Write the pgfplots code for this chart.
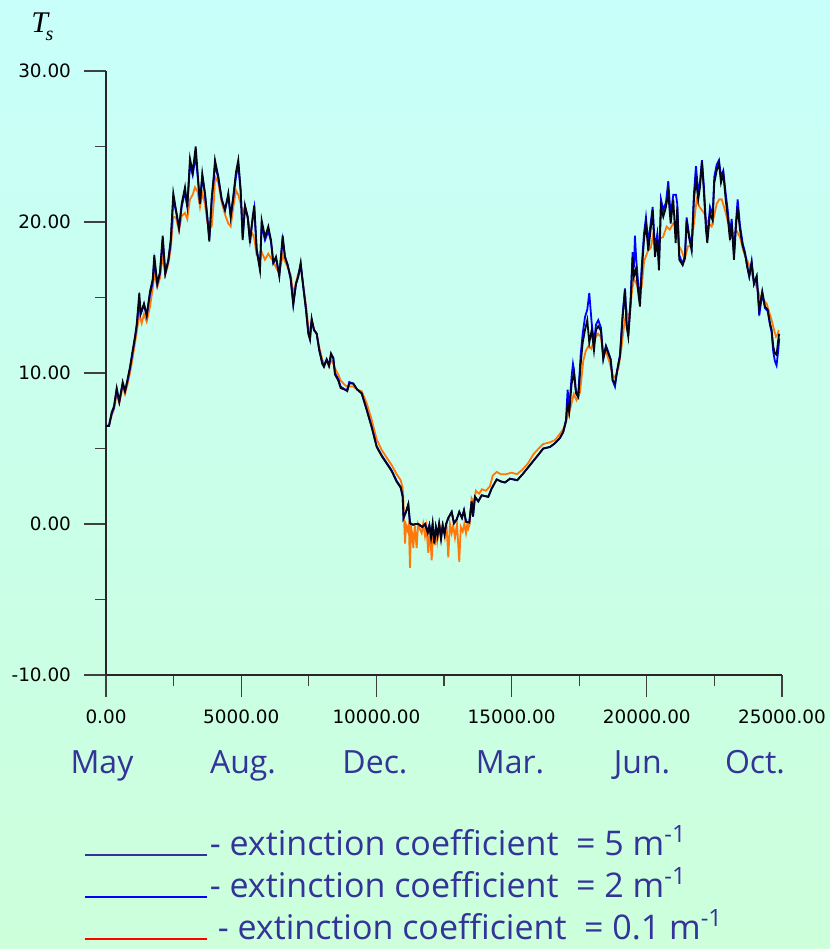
\documentclass[border=0pt]{standalone}
\usepackage{fontspec}
\usepackage{pgfplots}
\pgfplotsset{compat=1.18}
\setmainfont{DejaVu Sans}
\newfontfamily\legfont{Open Sans}
\newfontfamily\timesf{Liberation Serif}
\definecolor{bgtop}{RGB}{200,255,250}
\definecolor{bgbot}{RGB}{204,255,218}
\definecolor{navytext}{RGB}{51,51,153}
\definecolor{orng}{RGB}{255,120,10}
\definecolor{blu}{RGB}{0,0,255}
\definecolor{blk}{RGB}{5,5,20}
\begin{document}
\begin{tikzpicture}
\shade[top color=bgtop,bottom color=bgbot] (0pt,0pt) rectangle (415pt,474.5pt);
\node[anchor=base west, inner sep=0pt] at (15.5pt,458pt) {\timesf\itshape\fontsize{15}{15}\selectfont T\kern-1.2pt\raisebox{-4pt}{\fontsize{10}{10}\selectfont s}};
\begin{axis}[at={(53pt,137pt)}, anchor=south west,
  width=338pt, height=302pt, scale only axis,
  xmin=0, xmax=25000, ymin=-10, ymax=30,
  axis lines*=left, axis line style={-, black!85, line width=0.6pt},
  xtick={0,5000,10000,15000,20000,25000}, ytick={-10,0,10,20,30},
  minor x tick num=1, minor y tick num=1,
  tick align=outside, major tick length=11pt, minor tick length=5.5pt,
  tick style={black!75, line width=0.6pt},
  scaled x ticks=false, scaled y ticks=false,
  ticklabel style={font=\fontsize{9.2}{10}\selectfont, /pgf/number format/fixed, /pgf/number format/fixed zerofill, /pgf/number format/precision=2, /pgf/number format/1000 sep={}, /pgf/number format/assume math mode=true},
  yticklabel style={xshift=-3pt},
  xticklabel style={yshift=-3pt},
  clip=false,
  legend style={at={(-0.034,-0.255)}, anchor=north west, draw=none, fill=none, inner sep=0pt,
    font=\legfont\fontsize{17}{20}\selectfont, text=navytext, row sep=5.5pt, column sep=1pt,
    nodes={inner sep=0pt, text height=13pt, text depth=2.5pt}},
  legend cell align=left,
  legend image code/.code={\draw[#1] (0pt,-5pt) -- (61pt,-5pt);},
]
\addlegendimage{color=navytext, line width=1.2pt}
\addlegendentry{- extinction coefficient\ \ = 5 m\textsuperscript{-1}}
\addlegendimage{color=blu, line width=1.2pt}
\addlegendentry{- extinction coefficient\ \ = 2 m\textsuperscript{-1}}
\addlegendimage{color=red, line width=1.2pt}
\addlegendentry{\hspace*{4pt}- extinction coefficient\ \ = 0.1 m\textsuperscript{-1}}
% extinction coefficient 0.1
\addplot[forget plot, color=orng, line width=0.9pt] coordinates {
(0,6.5)(111,6.5)(211,7.2)(296,7.6)(396,8.6)(492,8.0)(618,9.1)(703,8.6)(788,9.2)(888,10.0)(987,11.0)(1072,12.0)(1135,12.7)(1231,13.9)(1320,13.3)(1405,13.9)(1505,13.4)(1627,14.4)(1727,15.6)(1786,16.6)(1897,15.7)(1997,16.3)(2097,17.8)(2193,16.5)(2304,17.2)(2393,18.2)(2489,20.35)(2589,20.3)(2700,19.4)(2799,20.4)(2921,20.6)(3006,20.2)(3106,21.5)(3206,21.8)(3290,22.3)(3391,22.0)(3476,21.0)(3561,21.9)(3661,21.2)(3746,20.0)(3820,19.5)(3909,19.7)(3994,21.5)(4031,23.0)(4153,22.6)(4279,21.3)(4401,20.5)(4523,19.9)(4611,19.7)(4708,21.0)(4807,22.1)(4892,21.8)(4981,21.2)(5055,20.6)(5140,21.0)(5240,20.3)(5325,19.5)(5425,19.2)(5484,18.9)(5573,17.8)(5695,17.7)(5758,18.0)(5880,17.5)(6002,17.9)(6102,17.6)(6187,17.4)(6287,17.0)(6409,16.6)(6534,17.8)(6619,17.4)(6719,17.0)(6830,16.5)(6926,15.2)(7026,16.0)(7111,16.6)(7200,17.0)(7296,15.8)(7396,14.5)(7481,13.1)(7544,12.7)(7607,13.4)(7692,12.9)(7792,12.6)(7888,11.7)(7999,10.9)(8061,10.6)(8161,10.8)(8247,10.4)(8321,10.9)(8406,10.6)(8468,10.3)(8590,9.9)(8679,9.5)(8838,9.2)(8923,9.1)(8997,9.1)(9145,9.1)(9293,8.9)(9456,8.8)(9641,8.0)(9826,6.9)(10011,5.6)(10196,4.9)(10381,4.4)(10565,3.9)(10750,3.3)(10898,2.9)(10972,2.4)(11000,1.5)(11030,0.0)(11057,-1.3)(11100,-0.1)(11150,-0.4)(11200,0.0)(11242,-2.9)(11280,-0.2)(11320,-0.6)(11365,-1.6)(11420,-0.1)(11489,-1.6)(11540,0.0)(11600,-0.3)(11674,-0.6)(11730,0.0)(11797,-0.8)(11850,-0.2)(11919,-1.9)(11980,-0.3)(12044,-2.4)(12100,-0.4)(12166,-1.4)(12210,-0.2)(12252,-1.1)(12330,0.0)(12414,-0.5)(12470,-0.1)(12536,-0.9)(12600,-0.3)(12658,-2.2)(12720,0.0)(12784,-0.6)(12840,-0.1)(12906,-0.9)(12980,0.0)(13065,-2.5)(13120,-0.2)(13191,-0.5)(13250,0.0)(13313,-0.6)(13360,0.0)(13398,-0.3)(13450,0.0)(13520,1.7)(13600,1.4)(13680,2.2)(13800,2.0)(13900,2.3)(14050,2.2)(14200,2.5)(14300,3.2)(14450,3.45)(14600,3.3)(14800,3.3)(15000,3.4)(15200,3.3)(15400,3.6)(15600,4.0)(15800,4.6)(16000,5.0)(16172,5.3)(16400,5.4)(16600,5.55)(16800,6.0)(16950,6.4)(17050,7.0)(17150,7.5)(17300,8.6)(17400,8.2)(17529,8.7)(17650,10.8)(17750,11.5)(17850,11.8)(17950,11.6)(18050,12.2)(18194,12.6)(18300,12.4)(18400,11.2)(18500,11.4)(18638,10.6)(18750,9.8)(18823,9.7)(18950,10.3)(19050,11.5)(19150,13.0)(19255,14.2)(19350,13.5)(19450,15.4)(19520,16.2)(19600,16.0)(19700,15.4)(19810,15.7)(19900,17.4)(20043,18.1)(20150,18.3)(20250,19.3)(20350,18.2)(20487,18.9)(20600,19.0)(20735,19.7)(20850,19.5)(20979,19.9)(21100,19.6)(21190,18.4)(21289,18.1)(21400,17.5)(21522,18.4)(21640,18.4)(21744,19.9)(21844,21.5)(21950,21.0)(22029,20.8)(22120,20.6)(22214,20.1)(22300,19.9)(22399,19.7)(22500,20.5)(22585,21.2)(22680,21.5)(22770,21.5)(22891,20.8)(23000,20.0)(23139,19.25)(23250,19.3)(23324,19.4)(23445,19.0)(23600,17.9)(23704,17.5)(23850,16.8)(23963,16.1)(24063,15.7)(24200,15.0)(24330,14.8)(24433,14.6)(24530,14.0)(24617,13.5)(24700,12.9)(24777,12.4)(24830,12.5)(24880,12.85)
};
% extinction coefficient 2
\addplot[forget plot, color=blu, line width=0.9pt] coordinates {
(0,6.5)(111,6.5)(211,7.3)(296,7.7)(396,8.9)(492,8.1)(618,9.3)(703,8.8)(788,9.4)(888,10.3)(987,11.4)(1072,12.3)(1135,13.1)(1231,14.8)(1283,13.9)(1405,14.5)(1505,13.8)(1627,15.2)(1727,16.0)(1786,17.4)(1897,15.9)(1997,16.6)(2097,18.8)(2193,16.6)(2304,17.4)(2393,18.6)(2489,21.5)(2589,20.7)(2700,19.6)(2799,21.0)(2921,22.0)(3006,21.0)(3106,23.8)(3206,23.1)(3317,24.4)(3391,23.0)(3476,21.2)(3561,23.0)(3661,21.8)(3746,20.3)(3820,18.9)(3909,21.4)(3994,23.0)(4031,23.8)(4153,22.9)(4279,21.5)(4401,20.8)(4523,21.7)(4611,20.35)(4708,21.6)(4807,23.0)(4892,23.8)(4981,22.0)(5055,19.0)(5140,21.0)(5240,20.3)(5325,18.8)(5425,20.2)(5484,20.9)(5573,18.2)(5695,17.0)(5758,19.8)(5880,18.8)(6002,19.4)(6102,18.7)(6187,17.3)(6287,17.6)(6409,16.5)(6534,18.8)(6619,17.7)(6719,17.15)(6830,16.3)(6926,14.6)(7026,15.9)(7111,16.4)(7200,17.2)(7296,15.7)(7396,14.2)(7481,12.7)(7544,12.3)(7607,13.5)(7692,12.85)(7792,12.6)(7888,11.5)(7999,10.7)(8061,10.5)(8161,10.9)(8247,10.5)(8321,11.2)(8406,11.0)(8468,10.0)(8590,9.6)(8679,9.1)(8838,8.9)(8923,8.9)(8997,9.4)(9145,9.3)(9293,8.9)(9456,8.65)(9641,7.6)(9826,6.45)(10011,5.15)(10196,4.55)(10381,4.05)(10565,3.55)(10750,2.85)(10898,2.45)(10972,1.85)(11002,0.4)(11094,0.8)(11180,1.3)(11243,0.05)(11353,-0.05)(11450,0.0)(11550,0.0)(11700,-0.2)(11800,0.0)(11900,-0.5)(11960,-0.1)(12020,-0.8)(12080,0.0)(12140,-1.2)(12200,-0.2)(12260,-0.7)(12320,0.0)(12390,-0.9)(12450,-0.1)(12520,-0.6)(12580,0.0)(12658,0.4)(12784,0.8)(12869,0.05)(12969,0.3)(13065,0.8)(13165,0.4)(13239,0.9)(13313,0.15)(13435,0.1)(13524,1.5)(13572,0.5)(13646,1.8)(13768,1.5)(13894,1.9)(14138,1.8)(14263,2.35)(14448,2.95)(14633,2.8)(14755,2.75)(14940,3.0)(15210,2.9)(15432,3.35)(15680,3.9)(15927,4.45)(16172,5.0)(16419,5.1)(16604,5.35)(16789,5.7)(16911,6.1)(17011,6.9)(17073,8.9)(17130,7.6)(17221,9.8)(17270,10.6)(17306,10.2)(17381,8.8)(17466,8.6)(17555,11.2)(17629,12.6)(17714,13.7)(17799,14.2)(17873,15.3)(17962,13.3)(18047,12.0)(18121,13.2)(18205,13.5)(18305,13.0)(18390,11.0)(18490,11.8)(18575,11.4)(18664,10.9)(18738,9.5)(18823,9.1)(18908,10.2)(19008,11.2)(19107,13.9)(19193,15.6)(19255,13.3)(19315,12.5)(19403,15.0)(19477,18.0)(19525,17.0)(19562,19.1)(19600,17.8)(19685,15.8)(19747,14.8)(19810,17.0)(19895,19.2)(19969,20.3)(20054,18.6)(20143,19.9)(20217,21.0)(20302,18.2)(20387,19.2)(20450,17.3)(20524,21.5)(20609,20.8)(20709,21.3)(20794,22.7)(20883,20.4)(20979,21.8)(21079,21.8)(21127,21.2)(21201,17.8)(21326,17.2)(21411,17.8)(21474,20.3)(21559,19.2)(21659,18.4)(21744,21.9)(21818,23.7)(21903,22.0)(21966,22.6)(22040,24.1)(22114,22.3)(22188,19.9)(22237,18.9)(22337,21.0)(22436,20.5)(22496,23.0)(22585,23.8)(22670,24.1)(22744,23.0)(22829,23.4)(22917,21.9)(22991,20.8)(23076,19.2)(23139,20.2)(23224,17.9)(23298,20.0)(23360,21.5)(23445,19.8)(23545,18.6)(23630,18.0)(23715,17.1)(23789,16.4)(23878,17.4)(23963,15.9)(24063,16.4)(24159,13.8)(24270,15.3)(24370,14.3)(24470,14.1)(24555,13.2)(24617,12.7)(24677,11.4)(24736,10.8)(24799,10.5)(24861,11.5)(24898,12.3)
};
% extinction coefficient 5
\addplot[forget plot, color=blk, line width=0.9pt] coordinates {
(0,6.5)(111,6.5)(211,7.4)(296,7.8)(396,9.0)(492,8.1)(618,9.4)(703,8.8)(788,9.5)(888,10.4)(987,11.5)(1072,12.4)(1135,13.2)(1231,15.3)(1283,13.95)(1405,14.6)(1505,13.8)(1627,15.4)(1727,16.2)(1786,17.8)(1897,15.9)(1997,16.7)(2097,19.1)(2193,16.6)(2304,17.5)(2393,18.8)(2489,21.9)(2589,20.8)(2700,19.6)(2799,21.2)(2921,22.3)(3006,21.0)(3106,24.2)(3206,23.3)(3317,25.0)(3391,23.2)(3476,21.2)(3561,23.2)(3661,21.9)(3746,20.35)(3820,18.7)(3909,21.6)(3994,23.2)(4031,24.1)(4153,23.0)(4279,21.5)(4401,20.8)(4523,21.9)(4611,20.35)(4708,21.7)(4807,23.3)(4892,24.1)(4981,22.1)(5055,18.8)(5140,21.1)(5240,20.35)(5325,18.6)(5425,20.35)(5484,21.1)(5573,18.1)(5695,16.8)(5758,20.1)(5880,19.0)(6002,19.7)(6102,18.8)(6187,17.3)(6287,17.7)(6409,16.4)(6534,19.1)(6619,17.7)(6719,17.15)(6830,16.2)(6926,14.5)(7026,15.9)(7111,16.4)(7200,17.3)(7296,15.7)(7396,14.2)(7481,12.6)(7544,12.2)(7607,13.6)(7692,12.85)(7792,12.6)(7888,11.5)(7999,10.6)(8061,10.4)(8161,10.9)(8247,10.5)(8321,11.3)(8406,11.0)(8468,9.9)(8590,9.5)(8679,9.0)(8838,8.9)(8923,8.8)(8997,9.3)(9145,9.3)(9293,8.9)(9456,8.65)(9641,7.55)(9826,6.4)(10011,5.1)(10196,4.5)(10381,4.0)(10565,3.5)(10750,2.8)(10898,2.4)(10972,1.8)(11002,0.4)(11094,0.8)(11180,1.3)(11243,0.05)(11353,-0.05)(11450,0.0)(11550,0.0)(11700,-0.2)(11800,0.0)(11900,-0.6)(11960,-0.1)(12020,-0.9)(12080,0.0)(12140,-1.3)(12200,-0.2)(12260,-0.8)(12320,0.0)(12390,-1.0)(12450,-0.1)(12520,-0.7)(12580,0.0)(12658,0.4)(12784,0.8)(12869,0.05)(12969,0.3)(13065,0.8)(13165,0.4)(13239,0.9)(13313,0.15)(13435,0.1)(13524,1.5)(13572,0.5)(13646,1.8)(13768,1.5)(13894,1.9)(14138,1.8)(14263,2.35)(14448,2.95)(14633,2.8)(14755,2.75)(14940,3.0)(15210,2.9)(15432,3.35)(15680,3.9)(15927,4.45)(16172,5.0)(16419,5.1)(16604,5.35)(16789,5.7)(16911,6.1)(17011,6.8)(17073,8.0)(17130,7.4)(17221,9.3)(17306,10.0)(17381,8.65)(17466,8.4)(17555,10.6)(17629,12.0)(17714,12.85)(17799,13.5)(17873,12.0)(17962,12.85)(18047,11.5)(18121,12.85)(18205,13.1)(18305,12.8)(18390,10.9)(18490,11.75)(18575,11.3)(18664,10.9)(18738,9.5)(18823,9.3)(18908,10.2)(19008,11.1)(19107,13.7)(19193,15.5)(19255,13.1)(19315,12.4)(19403,14.6)(19477,17.7)(19525,16.4)(19600,16.9)(19685,15.3)(19747,14.4)(19810,16.6)(19895,18.8)(19969,19.9)(20054,18.1)(20143,19.5)(20217,20.8)(20302,17.7)(20387,18.8)(20450,16.8)(20524,21.0)(20609,20.35)(20709,21.0)(20794,21.9)(20883,19.9)(20979,21.5)(21068,18.6)(21127,21.0)(21201,17.5)(21326,17.15)(21411,17.6)(21474,20.1)(21559,19.0)(21659,18.1)(21744,21.5)(21818,22.8)(21903,21.5)(21966,22.3)(22040,24.0)(22114,21.9)(22188,19.5)(22237,18.6)(22337,20.6)(22436,20.1)(22496,22.6)(22585,23.4)(22670,23.9)(22744,22.6)(22829,23.2)(22917,21.5)(22991,20.35)(23076,18.8)(23139,19.9)(23224,17.5)(23298,19.7)(23360,21.0)(23445,19.5)(23545,18.4)(23630,17.9)(23715,17.0)(23789,16.4)(23878,17.3)(23963,15.9)(24063,16.4)(24159,14.2)(24270,15.4)(24370,14.4)(24470,14.2)(24555,13.3)(24617,12.85)(24677,11.75)(24736,11.3)(24799,11.2)(24861,12.2)(24898,12.6)
};
\end{axis}
\begin{scope}[every node/.style={anchor=base, inner sep=0pt, text=navytext, font=\legfont\fontsize{16}{16}\selectfont}]
\node at (51pt,87.5pt) {May};
\node at (121.5pt,87.5pt) {Aug.};
\node at (187.5pt,87.5pt) {Dec.};
\node at (255pt,87.5pt) {Mar.};
\node at (321pt,87.5pt) {Jun.};
\node at (377.5pt,87.5pt) {Oct.};
\end{scope}
\pgfresetboundingbox
\useasboundingbox (0pt,0pt) rectangle (415pt,474.5pt);
\end{tikzpicture}
\end{document}
